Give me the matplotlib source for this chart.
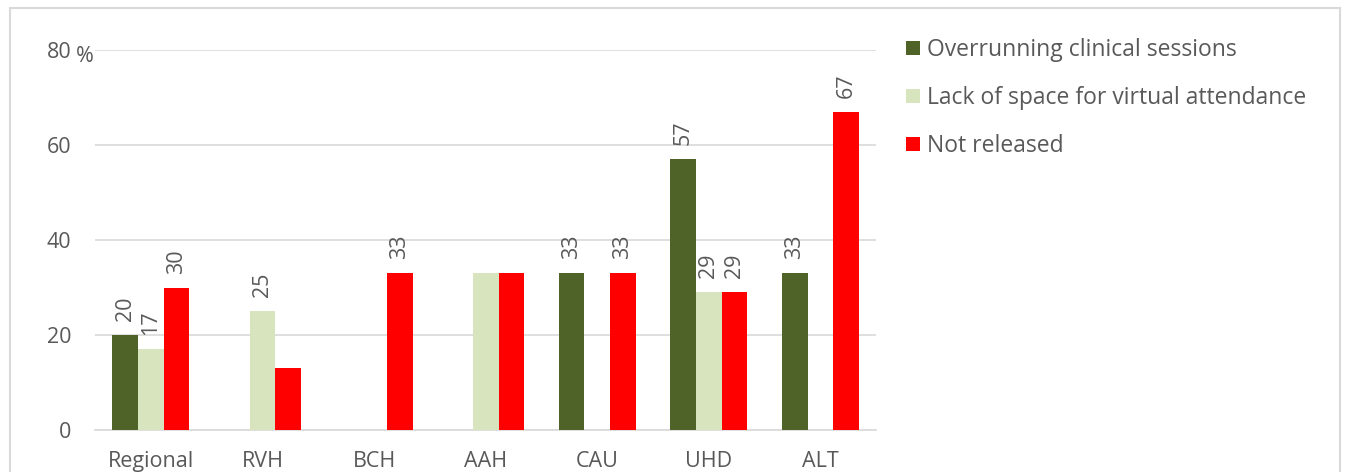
import matplotlib.pyplot as plt
import numpy as np
from matplotlib.patches import Rectangle

plt.rcParams['font.family'] = ['Open Sans', 'DejaVu Sans']

categories = ['Regional', 'RVH', 'BCH', 'AAH', 'CAU', 'UHD', 'ALT']
series_names = ['Overrunning clinical sessions',
                'Lack of space for virtual attendance',
                'Not released']
overrunning = [20, 0, 0, 0, 33, 57, 33]
lack_space = [17, 25, 0, 33, 0, 29, 0]
not_released = [30, 13, 33, 33, 33, 29, 67]
# labels as shown on the chart (None = no label drawn)
overrunning_lbl = ['20', None, None, None, '33', '57', '33']
lack_space_lbl = ['17', '25', None, None, None, '29', None]
not_released_lbl = ['30', None, '33', None, '33', '29', '67']
colors = ['#4F6228', '#D7E4BD', '#FF0000']
text_col = '#595959'

fig = plt.figure(figsize=(13.46, 4.72), dpi=100)
ax = fig.add_axes([0.0706, 0.089, 0.5805, 0.805])

# outer chart border
fig.patches.append(Rectangle((10 / 1346, -0.1), 1330 / 1346, 1.1 - 8 / 472,
                             transform=fig.transFigure, fill=False,
                             edgecolor='#D9D9D9', linewidth=1.5))

x = np.arange(len(categories))
w = 0.23
series = [overrunning, lack_space, not_released]
labels = [overrunning_lbl, lack_space_lbl, not_released_lbl]
for i, (vals, lbls) in enumerate(zip(series, labels)):
    pos = x + (i - 1) * w
    ax.bar(pos, vals, width=w, color=colors[i], label=series_names[i], zorder=3)
    for p, v, l in zip(pos, vals, lbls):
        if l is None:
            continue
        ax.annotate(l, (p, v), xytext=(0, 10), textcoords='offset points',
                    rotation=90, ha='center', va='bottom',
                    fontsize=15.5, color=text_col)

ax.set_xlim(-0.5, 6.5)
ax.set_ylim(0, 80)
ax.set_yticks([0, 20, 40, 60, 80])
ax.yaxis.grid(True, color='#D9D9D9', linewidth=1.2, zorder=0)
ax.set_xticks(x)
ax.set_xticklabels(categories)
ax.tick_params(axis='both', length=0, labelsize=15.5, colors=text_col)
ax.tick_params(axis='y', pad=17)
ax.tick_params(axis='x', pad=15)
for s in ['top', 'right', 'left']:
    ax.spines[s].set_visible(False)
ax.spines['bottom'].set_color('#D9D9D9')
ax.spines['bottom'].set_linewidth(1.2)

ax.annotate('%', (-0.5, 80), xytext=(-1, -5), textcoords='offset points',
            ha='right', va='center', fontsize=15.5, color=text_col,
            annotation_clip=False)

leg = ax.legend(loc='upper left', bbox_to_anchor=(897 / 1346, 1 - 29 / 472),
                bbox_transform=fig.transFigure, frameon=False,
                fontsize=16.5, handlelength=0.6, handleheight=0.6,
                handletextpad=0.3, labelspacing=1.05, borderaxespad=0)
for t in leg.get_texts():
    t.set_color(text_col)

fig.savefig('out.png', dpi=100)
